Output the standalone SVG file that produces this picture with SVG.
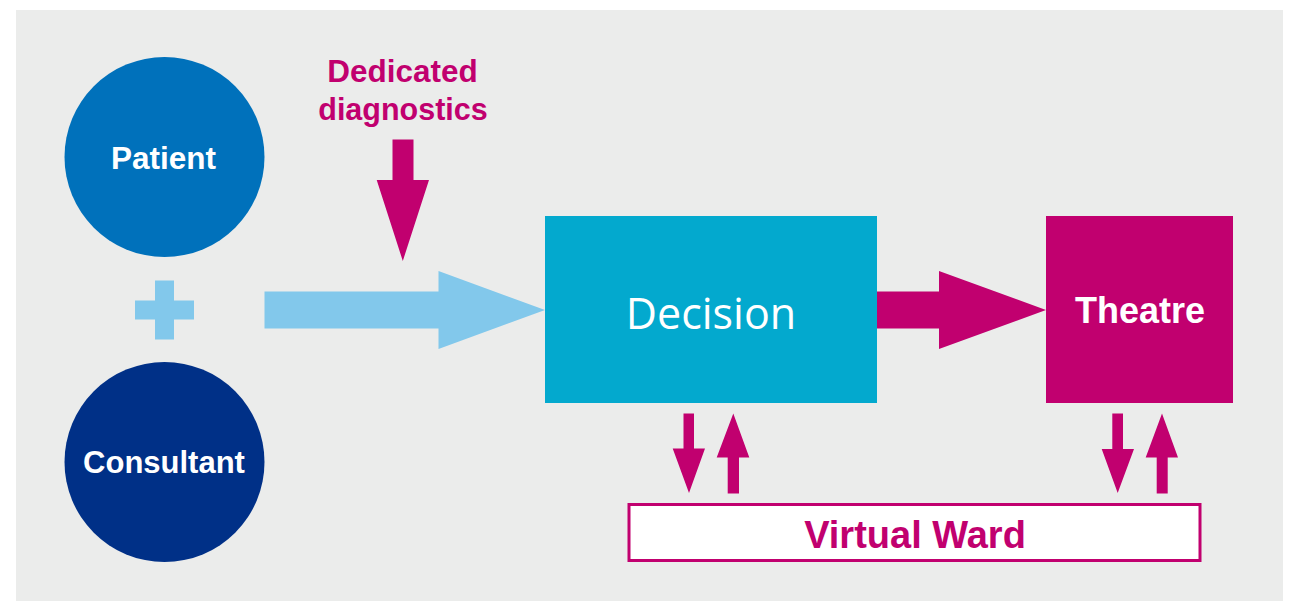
<svg xmlns="http://www.w3.org/2000/svg" width="1296" height="601" viewBox="0 0 1296 601">
  <style>
    .lbl { font-family: "Liberation Sans", Arial, sans-serif; font-weight: bold; text-anchor: middle; }
    .white { fill: #ffffff; }
    .pink { fill: #C1006F; }
    .flow { fill: #C1006F; }
  </style>
  <rect x="0" y="0" width="1296" height="601" fill="#ffffff"/>
  <rect x="16" y="10" width="1267" height="591" fill="#EBECEB"/>

  <g id="patient">
    <circle cx="164.5" cy="157" r="100" fill="#0071BB"/>
    <text class="lbl white" x="163.5" y="169" font-size="31.5">Patient</text>
  </g>

  <g id="plus">
    <rect x="135" y="300.5" width="59" height="19" fill="#82C8EB"/>
    <rect x="155" y="280.5" width="19" height="59" fill="#82C8EB"/>
  </g>

  <g id="consultant">
    <circle cx="164.5" cy="462" r="100" fill="#003087"/>
    <text class="lbl white" x="164" y="473" font-size="31">Consultant</text>
  </g>

  <g id="diagnostics">
    <text class="lbl pink" x="402.5" y="82" font-size="31.5">Dedicated</text>
    <text class="lbl pink" x="403" y="120" font-size="30.5">diagnostics</text>
  </g>

  <g id="decision">
    <rect x="545" y="216" width="332" height="187" fill="#03A9CE"/>
    <text x="711" y="329" font-family="'Open Sans', 'Liberation Sans', sans-serif" font-size="43" fill="#ffffff" text-anchor="middle">Decision</text>
  </g>

  <g id="theatre">
    <rect x="1046" y="216" width="187" height="187" fill="#C1006F"/>
    <text class="lbl white" x="1140" y="323" font-size="36">Theatre</text>
  </g>

  <g id="virtual-ward">
    <rect x="629" y="504.5" width="571" height="56" fill="#ffffff" stroke="#C1006F" stroke-width="3"/>
    <text class="lbl pink" x="915" y="548" font-size="38">Virtual Ward</text>
  </g>

  <g id="connectors">
    <!-- patient + consultant into decision -->
    <polygon fill="#82C8EB" points="264.5,291.5 438.5,291.5 438.5,271 545,310 438.5,349 438.5,328.5 264.5,328.5"/>
    <!-- diagnostics feeding in -->
    <polygon class="flow" points="392.5,139.5 413.5,139.5 413.5,180 429,180 402.8,261 376.7,180 392.5,180"/>
    <!-- decision to theatre -->
    <polygon class="flow" points="877,291.5 939,291.5 939,271 1046,310 939,349 939,328.5 877,328.5"/>
    <!-- decision <-> virtual ward -->
    <polygon class="flow" points="683.5,413.5 694,413.5 694,448.5 705,448.5 689,493 672.7,448.5 683.5,448.5"/>
    <polygon class="flow" points="727.7,493.5 739,493.5 739,457.5 749.3,457.5 733.3,413.5 716.7,457.5 727.7,457.5"/>
    <!-- theatre <-> virtual ward -->
    <polygon class="flow" points="1112.3,413.5 1123,413.5 1123,449 1134,449 1117.7,493 1101.7,449 1112.3,449"/>
    <polygon class="flow" points="1156.7,493.5 1167.7,493.5 1167.7,457.5 1178,457.5 1162,413.5 1145.7,457.5 1156.7,457.5"/>
  </g>
</svg>
